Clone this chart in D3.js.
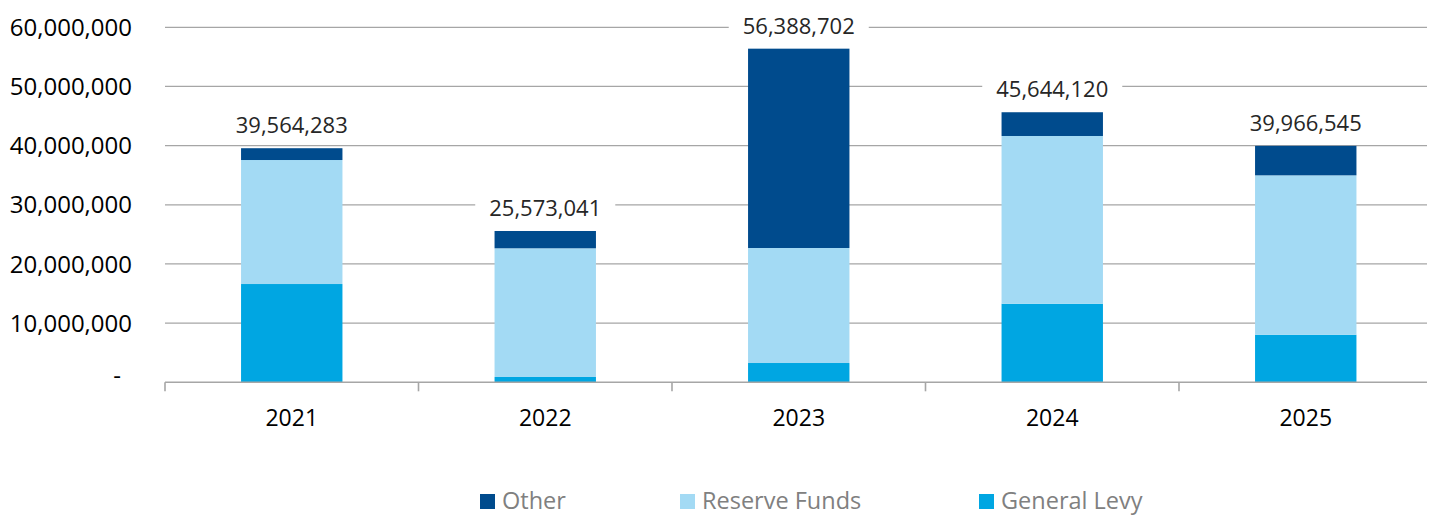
<!DOCTYPE html>
<html>
<head>
<meta charset="utf-8">
<script src="https://cdn.jsdelivr.net/npm/d3@7"></script>
<style>
  html, body { margin: 0; padding: 0; background: #fff; }
  svg { display: block; }
  text { font-family: "Open Sans", "Noto Sans", sans-serif; }
</style>
</head>
<body>
<svg id="chart" width="1435" height="515"></svg>
<script>
// Funding sources by year
const years = ["2021", "2022", "2023", "2024", "2025"];
const generalLevy  = [16610000,   900000,  3260000, 13280000,  8040000];
const reserveFunds = [20960000, 21750000, 19440000, 28350000, 26940000];
const other        = [ 1994283,  2923041, 33688702,  4014120,  4986545];
const seriesNames = ["General Levy", "Reserve Funds", "Other"];
const legendOrder = ["Other", "Reserve Funds", "General Levy"];
const yTicks = [0, 10000000, 20000000, 30000000, 40000000, 50000000, 60000000];

const colors = {
  "General Levy": "#00a6e2",
  "Reserve Funds": "#a3daf4",
  "Other": "#004b8d"
};

const rows = years.map((y, i) => ({
  year: y,
  "General Levy": generalLevy[i],
  "Reserve Funds": reserveFunds[i],
  "Other": other[i]
}));

const svg = d3.select("#chart");
const left = 165, right = 1427, bandEnd = 1432.5;

const x = d3.scaleBand().domain(years).range([left, bandEnd])
  .paddingInner(0.6).paddingOuter(0.3);
const y = d3.scaleLinear().domain([0, 60000000]).range([382.3, 27.3]);

// gridlines
svg.append("g").selectAll("line").data(yTicks.filter(d => d > 0)).join("line")
  .attr("x1", left).attr("x2", right)
  .attr("y1", d => y(d)).attr("y2", d => y(d))
  .attr("stroke", "#a6a6a6").attr("stroke-width", 1.3);

// y tick labels
const fmt = d3.format(",");
svg.append("g").selectAll("text").data(yTicks).join("text")
  .attr("x", d => d === 0 ? 121 : 132)
  .attr("y", d => y(d))
  .attr("dy", d => d === 0 ? "0.05em" : "0.36em")
  .attr("text-anchor", "end")
  .attr("font-size", 24)
  .attr("fill", "#000")
  .text(d => d === 0 ? "-" : fmt(d));

// stacked bars
const stack = d3.stack().keys(seriesNames);
const layers = stack(rows);
svg.append("g").selectAll("g").data(layers).join("g")
  .attr("fill", d => colors[d.key])
  .selectAll("rect").data(d => d).join("rect")
  .attr("x", d => x(d.data.year))
  .attr("width", x.bandwidth())
  .attr("y", d => y(d[1]))
  .attr("height", d => y(d[0]) - y(d[1]));

// x axis line and ticks
const axis = svg.append("g");
axis.append("line")
  .attr("x1", left).attr("x2", right)
  .attr("y1", y(0)).attr("y2", y(0))
  .attr("stroke", "#a6a6a6").attr("stroke-width", 1.6);
axis.selectAll("line.tick").data(years).join("line")
  .attr("class", "tick")
  .attr("x1", d => x(d) - x.step() * 0.3)
  .attr("x2", d => x(d) - x.step() * 0.3)
  .attr("y1", y(0)).attr("y2", y(0) + 9)
  .attr("stroke", "#a6a6a6").attr("stroke-width", 1.6);
axis.selectAll("text").data(years).join("text")
  .attr("x", d => x(d) + x.bandwidth() / 2)
  .attr("y", 426)
  .attr("text-anchor", "middle")
  .attr("font-size", 23)
  .attr("fill", "#000")
  .text(d => d);

// total labels above bars
const totals = rows.map(r => ({ year: r.year, total: seriesNames.reduce((s, k) => s + r[k], 0) }));
const lab = svg.append("g").selectAll("g").data(totals).join("g")
  .attr("transform", d => `translate(${x(d.year) + x.bandwidth() / 2},${y(d.total) - 15})`);
lab.append("text")
  .attr("text-anchor", "middle")
  .attr("font-size", 22)
  .attr("fill", "#262626")
  .text(d => fmt(d.total));
lab.each(function() {
  const g = d3.select(this);
  const bb = g.select("text").node().getBBox();
  g.insert("rect", "text")
    .attr("x", bb.x - 14).attr("width", bb.width + 28)
    .attr("y", bb.y - 2).attr("height", bb.height + 4)
    .attr("fill", "#fff");
});

// legend
const legendX = [480, 680, 979];
const leg = svg.append("g").selectAll("g").data(legendOrder).join("g")
  .attr("transform", (d, i) => `translate(${legendX[i]},0)`);
leg.append("rect")
  .attr("x", 0).attr("y", 494).attr("width", 15).attr("height", 15)
  .attr("fill", d => colors[d]);
leg.append("text")
  .attr("x", 22).attr("y", 509)
  .attr("font-size", 23.5)
  .attr("fill", "#808080")
  .text(d => d);
</script>
</body>
</html>
